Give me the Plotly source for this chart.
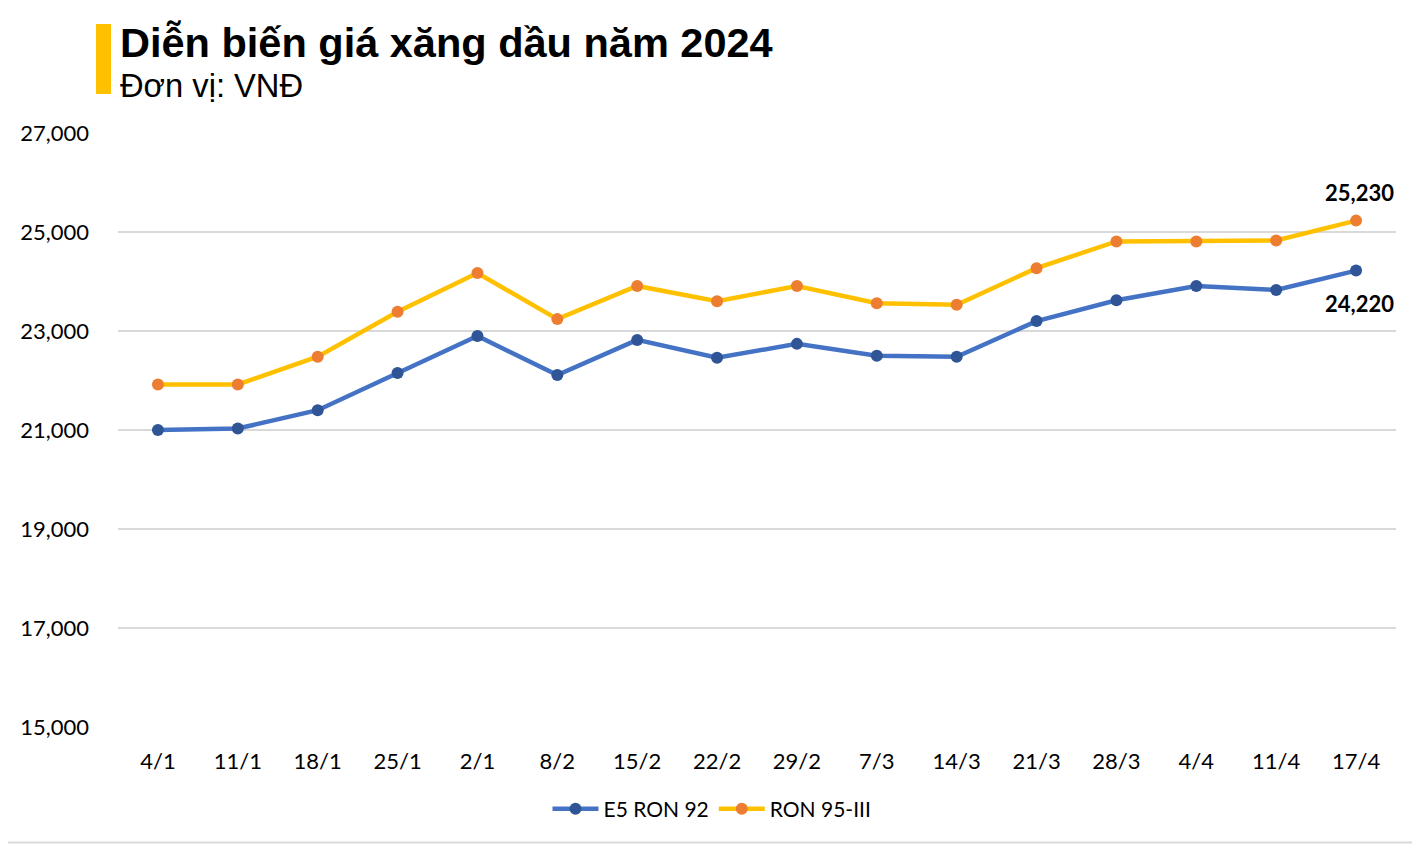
import plotly.graph_objects as go

categories = ["4/1", "11/1", "18/1", "25/1", "2/1", "8/2", "15/2", "22/2", "29/2",
              "7/3", "14/3", "21/3", "28/3", "4/4", "11/4", "17/4"]
e5_ron92 = [21000, 21030, 21400, 22150, 22900, 22110, 22820, 22460, 22740,
            22500, 22480, 23200, 23620, 23910, 23830, 24220]
ron95_iii = [21920, 21920, 22480, 23390, 24170, 23240, 23910, 23600, 23910,
             23560, 23530, 24270, 24810, 24810, 24830, 25230]
y_ticks = [15000, 17000, 19000, 21000, 23000, 25000, 27000]

# page body has an 8px margin; work in page pixels and convert
OFF = 8
W, H = 1420 - OFF, 844 - OFF
PL, PR, PT, PB = 118, 1396, 133, 727  # plot area in page pixels
L, T = PL - OFF, PT - OFF
R, B = W - (PR - OFF), H - (PB - OFF)
PW, PH = PR - PL, PB - PT


def px(x):
    return (x - PL) / PW


def py(y):
    return (PB - y) / PH


FONT = "Lato, sans-serif"

fig = go.Figure()
fig.add_trace(go.Scatter(
    x=categories, y=e5_ron92, name="E5 RON 92",
    mode="lines+markers",
    line=dict(color="#4472C4", width=4.5),
    marker=dict(color="#2F5597", size=12),
    cliponaxis=False,
))
fig.add_trace(go.Scatter(
    x=categories, y=ron95_iii, name="RON 95-III",
    mode="lines+markers",
    line=dict(color="#FFC000", width=4.5),
    marker=dict(color="#ED7D31", size=12),
    cliponaxis=False,
))

label_font = dict(family=FONT, size=22, color="#000000", weight="bold")
border = dict(color="#D9D9D9", width=2)

fig.update_layout(
    width=W, height=H,
    margin=dict(l=L, r=R, t=T, b=B, pad=0),
    paper_bgcolor="white", plot_bgcolor="white",
    font=dict(family=FONT, size=22, color="#000000"),
    showlegend=True,
    legend=dict(orientation="h", x=px(712), xanchor="center", y=py(809), yanchor="middle",
                font=dict(size=21, family=FONT), tracegroupgap=0, itemwidth=46),
    xaxis=dict(type="category", range=[-0.5, len(categories) - 0.5],
               showgrid=False, showline=False, zeroline=False, ticks="",
               ticklabelstandoff=19, tickfont=dict(size=22)),
    yaxis=dict(range=[15000, 27000], tickvals=y_ticks,
               ticktext=[f"{v:,}" for v in y_ticks],
               showgrid=True, gridcolor="#D9D9D9", gridwidth=2,
               showline=False, zeroline=False, ticks="",
               ticklabelstandoff=28, tickfont=dict(size=22)),
    shapes=[
        dict(type="rect", xref="paper", yref="paper",
             x0=px(96), x1=px(111), y0=py(94), y1=py(24),
             fillcolor="#FFC000", line=dict(width=0)),
        dict(type="line", xref="paper", yref="paper",
             x0=px(1418.5), x1=px(1418.5), y0=py(843), y1=py(8), line=border),
        dict(type="line", xref="paper", yref="paper",
             x0=px(8), x1=px(1419), y0=py(842.5), y1=py(842.5), line=border),
    ],
    annotations=[
        dict(text="<b>Diễn biến giá xăng dầu năm 2024</b>", xref="paper", yref="paper",
             x=px(118), y=py(42), xanchor="left", yanchor="middle", showarrow=False,
             font=dict(family="Liberation Sans, Arial, sans-serif", size=41.5, color="#000000")),
        dict(text="Đơn vị: VNĐ", xref="paper", yref="paper",
             x=px(118), y=py(86), xanchor="left", yanchor="middle", showarrow=False,
             font=dict(family="Liberation Sans, Arial, sans-serif", size=32.7, color="#000000")),
        dict(text=f"{ron95_iii[-1]:,}", x=categories[-1], y=ron95_iii[-1],
             xref="x", yref="y", showarrow=False, yshift=28, xshift=3, font=label_font),
        dict(text=f"{e5_ron92[-1]:,}", x=categories[-1], y=e5_ron92[-1],
             xref="x", yref="y", showarrow=False, yshift=-33, xshift=3, font=label_font),
    ],
)

fig.write_html("out.html")
